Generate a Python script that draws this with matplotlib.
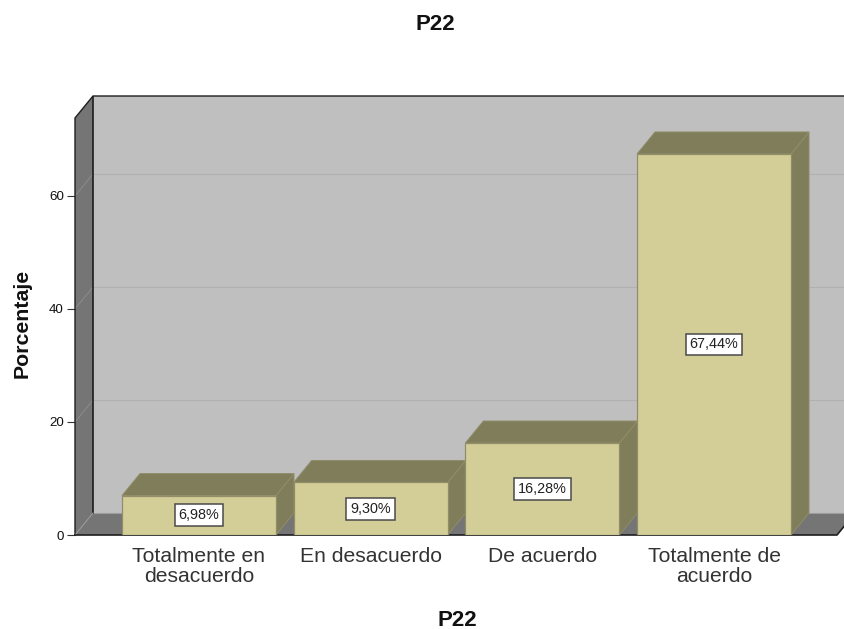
import matplotlib
matplotlib.use("Agg")
import matplotlib.pyplot as plt
from matplotlib.patches import Polygon

categories = ["Totalmente en\ndesacuerdo", "En desacuerdo", "De acuerdo", "Totalmente de\nacuerdo"]
values = [6.98, 9.30, 16.28, 67.44]
value_labels = ["6,98%", "9,30%", "16,28%", "67,44%"]
yticks = [0, 20, 40, 60]
title = "P22"
xlabel = "P22"
ylabel = "Porcentaje"

plt.rcParams["font.family"] = ["Liberation Sans", "DejaVu Sans"]
W, H = 844, 629
fig = plt.figure(figsize=(W / 100, H / 100), dpi=100, facecolor="white")
L, R, T, B = 75, 844, 96, 535
ax = fig.add_axes([L / W, 1 - B / H, (R - L) / W, (B - T) / H])

px_x = 171.67
px_y = 5.65
x0 = 199
ax.set_xlim((L - x0) / px_x, (R - x0) / px_x)
ax.set_ylim(0, (B - T) / px_y)
ax.set_facecolor("white")
for s in ax.spines.values():
    s.set_visible(False)

dx = 18 / px_x
dy = 22 / px_y
bw = 154 / px_x
left = ax.get_xlim()[0]
xmax = left + 762 / px_x
top = (B - T - 22) / px_y

WALL = "#bfbfbf"
SIDE = "#757575"
FLOOR = "#757575"
FACE = "#d3ce97"
DARK = "#807d5b"
EDGE = "#908d68"
GRID = "#b0b0b0"
FRAME = "#1e1e1e"


def poly(pts, fc, ec="none", lw=0.0, z=1):
    ax.add_patch(Polygon(pts, closed=True, fc=fc, ec=ec, lw=lw, zorder=z, clip_on=True, joinstyle="miter"))


# back wall, left wall, floor
poly([(left + dx, dy), (xmax + dx, dy), (xmax + dx, top + dy), (left + dx, top + dy)], WALL, z=1)
poly([(left, 0), (left + dx, dy), (left + dx, top + dy), (left, top)], SIDE, z=1)
poly([(left, 0), (left + dx, dy), (xmax + dx, dy), (xmax, 0)], FLOOR, z=1)

# grid lines on walls
for t in yticks[1:]:
    ax.plot([left + dx, xmax + dx], [t + dy, t + dy], color=GRID, lw=0.75, zorder=2)
    ax.plot([left, left + dx], [t, t + dy], color="#8c8c8c", lw=0.7, zorder=2)

# frame edges
ax.plot([left, left, left + dx, xmax + dx], [0, top, top + dy, top + dy], color=FRAME, lw=1.0, zorder=3, clip_on=False, solid_joinstyle="miter")
ax.plot([left + dx, xmax + dx], [dy, dy], color="#9c9c9c", lw=0.8, zorder=3)
ax.plot([left + dx, left + dx], [top + dy, dy], color=FRAME, lw=1.2, zorder=3)
ax.plot([left, left + dx], [0, dy], color="#9a9a9a", lw=0.7, zorder=3)
ax.plot([left, xmax, xmax + dx], [0, 0, dy], color=FRAME, lw=1.2, zorder=3, clip_on=False)

# 3D bars
for i, v in enumerate(values):
    x1, x2 = i - bw / 2, i + bw / 2
    z = 5 + i
    poly([(x2, 0), (x2 + dx, dy), (x2 + dx, v + dy), (x2, v)], DARK, EDGE, 0.7, z)
    poly([(x1, v), (x1 + dx, v + dy), (x2 + dx, v + dy), (x2, v)], DARK, EDGE, 0.7, z)
    poly([(x1, 0), (x2, 0), (x2, v), (x1, v)], FACE, EDGE, 0.9, z)
    ax.text(i, v / 2, value_labels[i], ha="center", va="center", fontsize=10.4, color="#222222", zorder=20,
            bbox=dict(boxstyle="square,pad=0.27", fc="white", ec="#4a4a4a", lw=1.1))

ax.set_yticks(yticks)
ax.set_xticks(range(len(categories)))
ax.set_xticklabels(categories, fontsize=15.2, color="#333333", linespacing=1.06)
ax.tick_params(axis="x", length=0, pad=9)
ax.tick_params(axis="y", length=6, width=0.8, color="#333333", labelsize=9.6, pad=2, labelcolor="#111111")

fig.text(435 / W, 1 - 24.5 / H, title, ha="center", va="center", fontsize=16, fontweight="bold", color="#111111")
fig.text(457 / W, 1 - 620 / H, xlabel, ha="center", va="center", fontsize=16, fontweight="bold", color="#111111")
fig.text(22 / W, 1 - 323 / H, ylabel, ha="center", va="center", rotation=90, fontsize=15.3, fontweight="bold", color="#111111")

fig.savefig("out.png", dpi=100, facecolor="white")
